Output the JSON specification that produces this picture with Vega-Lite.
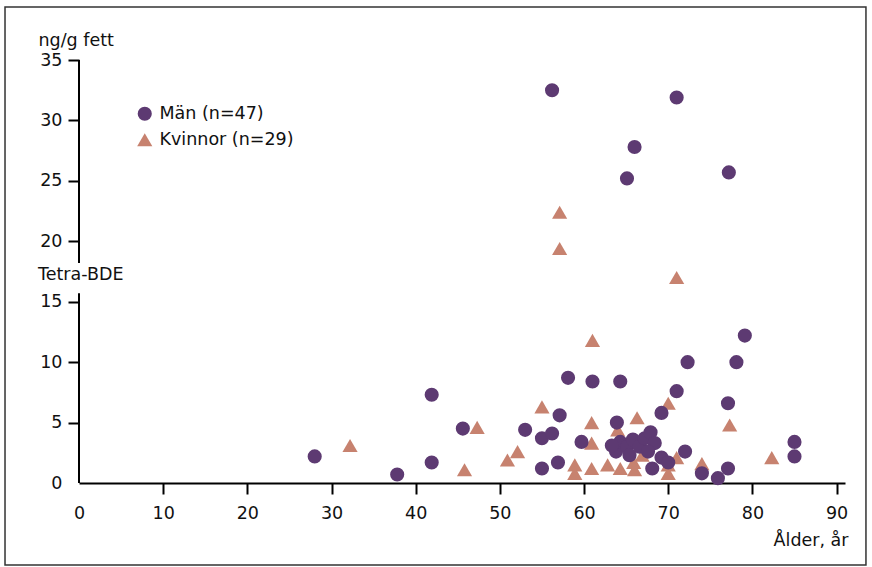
{
  "$schema": "https://vega.github.io/schema/vega-lite/v6.json",
  "width": 766,
  "height": 423,
  "autosize": {"type": "none"},
  "padding": {"left": 79, "top": 60, "right": 27, "bottom": 84},
  "background": "white",
  "config": {
    "view": {"stroke": null},
    "font": "DejaVu Sans",
    "axis": {"grid": false, "labelFlush": false, "labelFont": "DejaVu Sans", "titleFont": "DejaVu Sans", "labelFontSize": 17.5, "titleFontSize": 17.5, "titleFontWeight": "normal", "labelColor": "#111", "titleColor": "#111", "domainColor": "#000", "tickColor": "#000", "domainWidth": 2, "tickWidth": 2}
  },
  "layer": [
    {
      "data": {"values": [{}]},
      "mark": {"type": "rect", "fill": null, "stroke": "#333", "strokeWidth": 1.5},
      "encoding": {
        "x": {"datum": -8.79, "type": "quantitative"},
        "x2": {"datum": 93.49},
        "y": {"datum": -6.78, "type": "quantitative"},
        "y2": {"datum": 39.38}
      }
    },
    {
      "data": {"values": [{}]},
      "mark": {"type": "rule", "color": "#000", "strokeWidth": 2},
      "encoding": {
        "x": {"datum": 0, "type": "quantitative"},
        "y": {"datum": 0, "type": "quantitative"},
        "y2": {"datum": 15.7}
      }
    },
    {
      "data": {"values": [{}]},
      "mark": {"type": "rule", "color": "#000", "strokeWidth": 2},
      "encoding": {
        "x": {"datum": 0, "type": "quantitative"},
        "y": {"datum": 18.2, "type": "quantitative"},
        "y2": {"datum": 35}
      }
    },
    {
      "data": {"values": [{}]},
      "mark": {"type": "text", "text": "Tetra-BDE", "align": "left", "baseline": "middle", "dx": -41, "fontSize": 17.5, "font": "DejaVu Sans", "color": "#111"},
      "encoding": {
        "x": {"datum": 0, "type": "quantitative"},
        "y": {"datum": 17.2, "type": "quantitative"}
      }
    },
    {
      "data": {"values": [
        {"kon": "Kvinnor (n=29)", "alder": 32.2, "bde": 3.1},
        {"kon": "Kvinnor (n=29)", "alder": 45.8, "bde": 1.1},
        {"kon": "Kvinnor (n=29)", "alder": 47.3, "bde": 4.6},
        {"kon": "Kvinnor (n=29)", "alder": 50.9, "bde": 1.9},
        {"kon": "Kvinnor (n=29)", "alder": 52.1, "bde": 2.6},
        {"kon": "Kvinnor (n=29)", "alder": 55.0, "bde": 6.3},
        {"kon": "Kvinnor (n=29)", "alder": 57.1, "bde": 22.4},
        {"kon": "Kvinnor (n=29)", "alder": 57.1, "bde": 19.4},
        {"kon": "Kvinnor (n=29)", "alder": 71.0, "bde": 17.0},
        {"kon": "Kvinnor (n=29)", "alder": 61.0, "bde": 11.8},
        {"kon": "Kvinnor (n=29)", "alder": 60.9, "bde": 5.0},
        {"kon": "Kvinnor (n=29)", "alder": 60.9, "bde": 3.3},
        {"kon": "Kvinnor (n=29)", "alder": 58.9, "bde": 1.5},
        {"kon": "Kvinnor (n=29)", "alder": 58.9, "bde": 0.8},
        {"kon": "Kvinnor (n=29)", "alder": 60.9, "bde": 1.2},
        {"kon": "Kvinnor (n=29)", "alder": 62.8, "bde": 1.5},
        {"kon": "Kvinnor (n=29)", "alder": 64.3, "bde": 1.2},
        {"kon": "Kvinnor (n=29)", "alder": 64.0, "bde": 4.4},
        {"kon": "Kvinnor (n=29)", "alder": 66.3, "bde": 5.4},
        {"kon": "Kvinnor (n=29)", "alder": 70.0, "bde": 6.6},
        {"kon": "Kvinnor (n=29)", "alder": 66.9, "bde": 2.3},
        {"kon": "Kvinnor (n=29)", "alder": 66.0, "bde": 1.1},
        {"kon": "Kvinnor (n=29)", "alder": 71.0, "bde": 2.1},
        {"kon": "Kvinnor (n=29)", "alder": 70.0, "bde": 0.8},
        {"kon": "Kvinnor (n=29)", "alder": 77.3, "bde": 4.8},
        {"kon": "Kvinnor (n=29)", "alder": 74.0, "bde": 1.6},
        {"kon": "Kvinnor (n=29)", "alder": 82.3, "bde": 2.1},
        {"kon": "Kvinnor (n=29)", "alder": 65.9, "bde": 1.7},
        {"kon": "Kvinnor (n=29)", "alder": 70.0, "bde": 1.5},
        {"kon": "Män (n=47)", "alder": 56.2, "bde": 32.5},
        {"kon": "Män (n=47)", "alder": 71.0, "bde": 31.9},
        {"kon": "Män (n=47)", "alder": 66.0, "bde": 27.8},
        {"kon": "Män (n=47)", "alder": 65.1, "bde": 25.2},
        {"kon": "Män (n=47)", "alder": 77.2, "bde": 25.7},
        {"kon": "Män (n=47)", "alder": 28.0, "bde": 2.2},
        {"kon": "Män (n=47)", "alder": 37.8, "bde": 0.7},
        {"kon": "Män (n=47)", "alder": 41.9, "bde": 7.3},
        {"kon": "Män (n=47)", "alder": 41.9, "bde": 1.7},
        {"kon": "Män (n=47)", "alder": 45.6, "bde": 4.5},
        {"kon": "Män (n=47)", "alder": 53.0, "bde": 4.4},
        {"kon": "Män (n=47)", "alder": 55.0, "bde": 3.7},
        {"kon": "Män (n=47)", "alder": 56.2, "bde": 4.1},
        {"kon": "Män (n=47)", "alder": 57.1, "bde": 5.6},
        {"kon": "Män (n=47)", "alder": 55.0, "bde": 1.2},
        {"kon": "Män (n=47)", "alder": 56.9, "bde": 1.7},
        {"kon": "Män (n=47)", "alder": 58.1, "bde": 8.7},
        {"kon": "Män (n=47)", "alder": 61.0, "bde": 8.4},
        {"kon": "Män (n=47)", "alder": 64.3, "bde": 8.4},
        {"kon": "Män (n=47)", "alder": 59.7, "bde": 3.4},
        {"kon": "Män (n=47)", "alder": 63.9, "bde": 5.0},
        {"kon": "Män (n=47)", "alder": 69.2, "bde": 5.8},
        {"kon": "Män (n=47)", "alder": 71.0, "bde": 7.6},
        {"kon": "Män (n=47)", "alder": 72.3, "bde": 10.0},
        {"kon": "Män (n=47)", "alder": 78.1, "bde": 10.0},
        {"kon": "Män (n=47)", "alder": 79.1, "bde": 12.2},
        {"kon": "Män (n=47)", "alder": 77.1, "bde": 6.6},
        {"kon": "Män (n=47)", "alder": 85.0, "bde": 3.4},
        {"kon": "Män (n=47)", "alder": 85.0, "bde": 2.2},
        {"kon": "Män (n=47)", "alder": 74.0, "bde": 0.8},
        {"kon": "Män (n=47)", "alder": 77.1, "bde": 1.2},
        {"kon": "Män (n=47)", "alder": 75.9, "bde": 0.4},
        {"kon": "Män (n=47)", "alder": 68.1, "bde": 1.2},
        {"kon": "Män (n=47)", "alder": 69.2, "bde": 2.1},
        {"kon": "Män (n=47)", "alder": 70.0, "bde": 1.7},
        {"kon": "Män (n=47)", "alder": 72.0, "bde": 2.6},
        {"kon": "Män (n=47)", "alder": 63.8, "bde": 2.6},
        {"kon": "Män (n=47)", "alder": 64.3, "bde": 3.4},
        {"kon": "Män (n=47)", "alder": 65.1, "bde": 3.0},
        {"kon": "Män (n=47)", "alder": 65.8, "bde": 3.6},
        {"kon": "Män (n=47)", "alder": 66.6, "bde": 3.0},
        {"kon": "Män (n=47)", "alder": 67.2, "bde": 3.7},
        {"kon": "Män (n=47)", "alder": 67.9, "bde": 4.2},
        {"kon": "Män (n=47)", "alder": 68.4, "bde": 3.3},
        {"kon": "Män (n=47)", "alder": 65.4, "bde": 2.3},
        {"kon": "Män (n=47)", "alder": 67.6, "bde": 2.6},
        {"kon": "Män (n=47)", "alder": 63.3, "bde": 3.1}
      ]},
      "mark": {"type": "point", "filled": true, "opacity": 1},
      "encoding": {
        "x": {
          "field": "alder", "type": "quantitative",
          "scale": {"domain": [0, 91], "nice": false, "zero": false},
          "axis": {
            "values": [0, 10, 20, 30, 40, 50, 60, 70, 80, 90],
            "title": "Ålder, år",
            "tickSize": 11, "labelPadding": 10,
            "tickOpacity": {"condition": {"test": "datum.value == 0", "value": 0}, "value": 1},
            "titleAnchor": "end", "titleAlign": "right", "titleBaseline": "alphabetic",
            "titleX": 769, "titleY": 62
          }
        },
        "y": {
          "field": "bde", "type": "quantitative",
          "scale": {"domain": [0, 35], "nice": false},
          "axis": {
            "values": [0, 5, 10, 15, 20, 25, 30, 35],
            "domain": false,
            "title": "ng/g fett",
            "tickSize": 11, "labelPadding": 6,
            "tickOpacity": {"condition": {"test": "datum.value == 0", "value": 0}, "value": 1},
            "titleAngle": 0, "titleAlign": "left", "titleBaseline": "alphabetic",
            "titleX": -41, "titleY": -15
          }
        },
        "size": {
          "field": "kon", "type": "nominal",
          "scale": {"domain": ["Män (n=47)", "Kvinnor (n=29)"], "range": [200, 230]},
          "legend": null
        },
        "shape": {
          "field": "kon", "type": "nominal",
          "scale": {"domain": ["Män (n=47)", "Kvinnor (n=29)"], "range": ["circle", "triangle-up"]},
          "legend": {"title": null, "orient": "none", "legendX": 57, "legendY": 45, "padding": 0, "labelFontSize": 17.5, "labelFont": "DejaVu Sans", "labelColor": "#111", "labelOffset": 6, "rowPadding": 7, "symbolSize": 200, "symbolStrokeWidth": 0}
        },
        "color": {
          "field": "kon", "type": "nominal",
          "scale": {"domain": ["Män (n=47)", "Kvinnor (n=29)"], "range": ["#5d3a72", "#c7826f"]},
          "legend": {"title": null, "orient": "none", "legendX": 57, "legendY": 45, "padding": 0, "labelFontSize": 17.5, "labelFont": "DejaVu Sans", "labelColor": "#111", "labelOffset": 6, "rowPadding": 7, "symbolSize": 200, "symbolStrokeWidth": 0}
        }
      }
    }
  ]
}
